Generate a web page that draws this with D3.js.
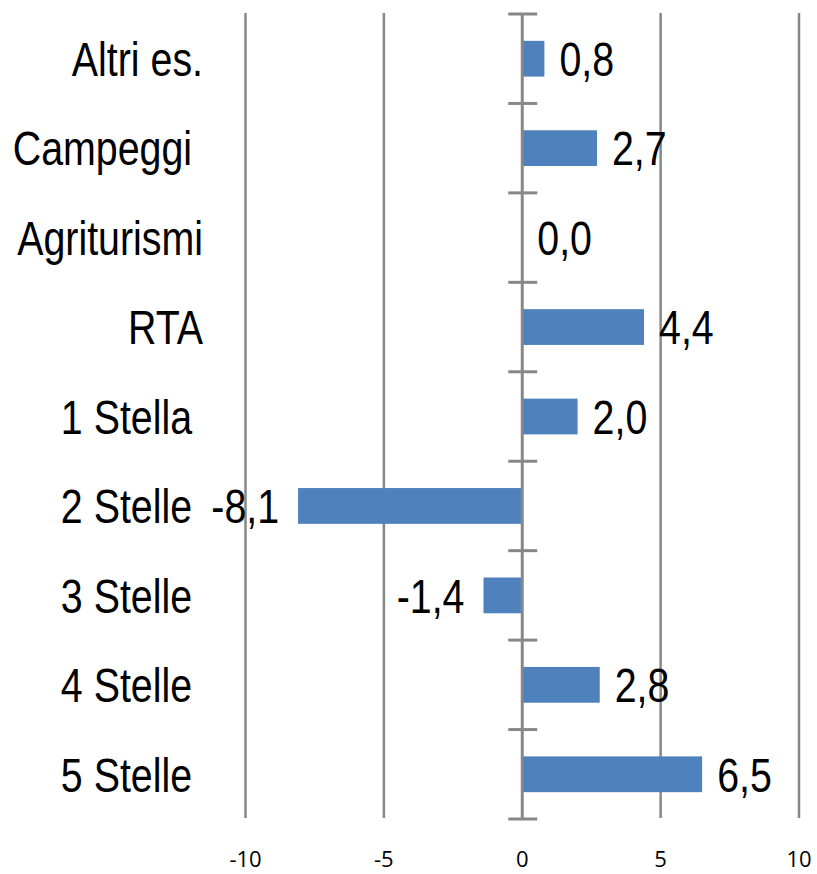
<!DOCTYPE html>
<html>
<head>
<meta charset="utf-8">
<script src="https://cdn.jsdelivr.net/npm/d3@7"></script>
<style>
  body { margin: 0; background: #fff; }
</style>
</head>
<body>
<div id="chart"></div>
<script>
// categorie (alcune con spazio finale come nell'originale)
const categories = ["Altri es.", "Campeggi\u00a0", "Agriturismi", "RTA", "1 Stella\u00a0",
                    "2 Stelle\u00a0", "3 Stelle\u00a0", "4 Stelle\u00a0", "5 Stelle\u00a0"];
const values = [0.8, 2.7, 0.0, 4.4, 2.0, -8.1, -1.4, 2.8, 6.5];
const tickValues = [-10, -5, 0, 5, 10];

const W = 817, H = 874;
const grey = "#878787";
const narrow = "'Liberation Sans', Arial, sans-serif";

const svg = d3.select("#chart").append("svg")
    .attr("width", W)
    .attr("height", H);

const x = d3.scaleLinear().domain([-10, 10]).range([245.5, 799]);
const y = d3.scaleBand().domain(categories).range([14, 819])
    .paddingInner(0.6).paddingOuter(0.3);

const it = d3.formatLocale({ decimal: ",", thousands: ".", grouping: [3], currency: ["", "€"], minus: "-" });
const fmt = it.format(".1f");
const dataset = categories.map((c, i) => ({ cat: c, value: values[i] }));

// griglia verticale
svg.selectAll(".grid")
   .data(tickValues.filter(d => d !== 0))
   .enter().append("line")
   .attr("x1", d => x(d)).attr("x2", d => x(d))
   .attr("y1", 13).attr("y2", 818)
   .attr("stroke", grey)
   .attr("stroke-width", 2.5);

// etichette asse X
svg.selectAll(".xlab")
   .data(tickValues)
   .enter().append("text")
   .attr("x", d => x(d))
   .attr("y", 867)
   .attr("text-anchor", "middle")
   .style("font-family", "'Open Sans', sans-serif")
   .style("font-size", "22px")
   .style("fill", "#000")
   .text(d => d);

// barre
svg.selectAll(".bar")
   .data(dataset)
   .enter().append("rect")
   .attr("x", d => Math.min(x(0), x(d.value)))
   .attr("y", d => y(d.cat))
   .attr("width", d => Math.abs(x(d.value) - x(0)))
   .attr("height", y.bandwidth())
   .attr("fill", "#4F81BD");

// asse dello zero con tacche
const gap = (y.step() - y.bandwidth()) / 2;
svg.append("line")
   .attr("x1", x(0)).attr("x2", x(0))
   .attr("y1", 13).attr("y2", 820)
   .attr("stroke", grey)
   .attr("stroke-width", 3);

const bounds = categories.map(c => y(c) - gap).concat([y(categories[categories.length - 1]) + y.bandwidth() + gap]);
svg.selectAll(".tick0")
   .data(bounds)
   .enter().append("line")
   .attr("x1", x(0) - 14).attr("x2", x(0) + 15)
   .attr("y1", d => d).attr("y2", d => d)
   .attr("stroke", grey)
   .attr("stroke-width", 3);

// etichette categorie (testo stretto come Arial Narrow)
svg.selectAll(".cat")
   .data(dataset)
   .enter().append("text")
   .attr("transform", d => `translate(203,${y(d.cat) + y.bandwidth() / 2}) scale(0.82,1)`)
   .attr("dy", "0.36em")
   .attr("text-anchor", "end")
   .style("font-family", narrow)
   .style("font-size", "48px")
   .style("fill", "#000")
   .text(d => d.cat);

// etichette valori
svg.selectAll(".val")
   .data(dataset)
   .enter().append("text")
   .attr("transform", d => {
       const xx = d.value >= 0 ? x(d.value) + 15 : x(d.value) - 19;
       return `translate(${xx},${y(d.cat) + y.bandwidth() / 2}) scale(0.82,1)`;
   })
   .attr("dy", "0.36em")
   .attr("text-anchor", d => d.value >= 0 ? "start" : "end")
   .style("font-family", narrow)
   .style("font-size", "48px")
   .style("fill", "#000")
   .text(d => fmt(d.value));
</script>
</body>
</html>
